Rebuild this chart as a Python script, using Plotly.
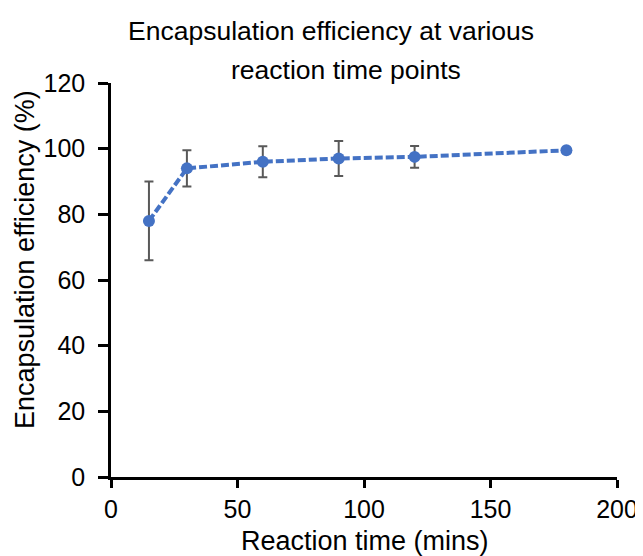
import plotly.graph_objects as go

# Data
reaction_time = [15, 30, 60, 90, 120, 180]
efficiency = [78, 94, 96, 97, 97.5, 99.5]
error = [12, 5.5, 4.7, 5.3, 3.3, 0.5]

x_ticks = [0, 50, 100, 150, 200]
y_ticks = [0, 20, 40, 60, 80, 100, 120]

FONT = "Liberation Sans, Arial, sans-serif"
BLUE = "#4472C4"

# page body has an 8px margin, so figure coordinates = screen - 8
OFF = 8
W, H = 635, 548
L, R, T, B = 103, 26, 75, 79
pw = W - L - R
ph = H - T - B

fig = go.Figure()
fig.add_trace(go.Scatter(
    x=reaction_time, y=efficiency,
    mode="lines+markers",
    line=dict(color=BLUE, width=4, dash="8px,3px"),
    marker=dict(color=BLUE, size=12),
    error_y=dict(type="data", array=error, visible=True,
                 color="#595959", thickness=2, width=4.5),
    showlegend=False,
))

axis_common = dict(
    showline=True, linecolor="black", linewidth=2.5,
    ticks="outside", tickwidth=2.5, tickcolor="black",
    showgrid=False, zeroline=False, automargin=False,
    tickfont=dict(family=FONT, size=25, color="black"),
)

fig.update_layout(
    width=W, height=H,
    margin=dict(l=L, r=R, t=T, b=B, autoexpand=False),
    paper_bgcolor="white", plot_bgcolor="white",
    font=dict(family=FONT, color="black"),
    xaxis=dict(range=[0, 200], tickvals=x_ticks, ticklen=8, **axis_common),
    yaxis=dict(range=[0, 120], tickvals=y_ticks, ticklen=10,
               ticklabelstandoff=8, **axis_common),
)


def add_text(text, sx, sy, size, angle=0):
    fx, fy = sx - OFF, sy - OFF
    fig.add_annotation(text=text, x=(fx - L) / pw, y=(H - B - fy) / ph,
                       xref="paper", yref="paper", showarrow=False,
                       xanchor="center", yanchor="middle", textangle=angle,
                       font=dict(family=FONT, size=size, color="black"))


add_text("Encapsulation efficiency at various", 331, 31, 26.5)
add_text("reaction time points", 346, 70, 26.5)
add_text("Reaction time (mins)", 365, 541, 27)
add_text("Encapsulation efficiency (%)", 25, 260, 27, angle=-90)

fig.write_html("out.html")
